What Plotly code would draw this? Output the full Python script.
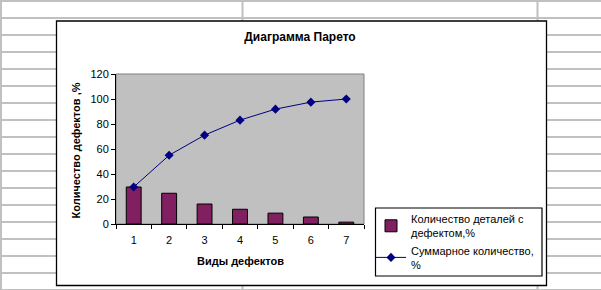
import plotly.graph_objects as go

# ---- data ----
categories = ["1", "2", "3", "4", "5", "6", "7"]
defect_share = [29.6, 24.6, 16.0, 11.8, 8.7, 5.6, 1.5]
cumulative = [29.6, 55.0, 71.1, 83.1, 91.9, 97.5, 100.0]
y_ticks = [0, 20, 40, 60, 80, 100, 120]

title_text = "Диаграмма Парето"
x_title = "Виды дефектов"
y_title = "Количество дефектов ,%"
bar_name = "Количество деталей с<br>дефектом,%"
line_name = "Суммарное количество,<br>%"

# ---- geometry (pixels) ----
W, H = 601, 290
PL, PR, PT, PB = 116, 364, 74, 224  # plot area box


def px(xp):
    return (xp - PL) / (PR - PL)


def py(yp):
    return (PB - yp) / (PB - PT)


FONT = "Liberation Sans, Arial, sans-serif"
GRID = "#C0C0C0"

fig = go.Figure()
fig.add_trace(go.Bar(
    x=categories, y=defect_share, name=bar_name,
    marker=dict(color="#802060", line=dict(color="black", width=1)),
))
fig.add_trace(go.Scatter(
    x=categories, y=cumulative, name=line_name, mode="lines+markers",
    line=dict(color="#000080", width=1),
    marker=dict(symbol="diamond", size=7, color="#000080"),
))

shapes = []
# spreadsheet grid
for k in range(18):
    yy = 1 + 17 * k
    shapes.append(dict(type="line", xref="paper", yref="paper", layer="below",
                       x0=px(0), x1=px(W), y0=py(yy), y1=py(yy),
                       line=dict(color=GRID, width=2)))
for xx in [1, 242.5, 537.5]:
    shapes.append(dict(type="line", xref="paper", yref="paper", layer="below",
                       x0=px(xx), x1=px(xx), y0=py(0), y1=py(H),
                       line=dict(color=GRID, width=2)))
# chart frame
shapes.append(dict(type="rect", xref="paper", yref="paper", layer="below",
                   x0=px(56.5), x1=px(546.5), y0=py(285.5), y1=py(21),
                   fillcolor="white", line=dict(color="black", width=1.3)))
# legend box
shapes.append(dict(type="rect", xref="paper", yref="paper", layer="below",
                   x0=px(375.5), x1=px(542), y0=py(276), y1=py(208),
                   fillcolor="white", line=dict(color="black", width=1.2)))
# plot area
shapes.append(dict(type="rect", xref="paper", yref="paper", layer="below",
                   x0=0, x1=1, y0=0, y1=1,
                   fillcolor="#C0C0C0", line=dict(color="#808080", width=1)))

fig.update_layout(
    width=W, height=H, autosize=False,
    margin=dict(l=PL, r=W - PR, t=PT, b=H - PB, pad=0, autoexpand=False),
    paper_bgcolor="white", plot_bgcolor="rgba(0,0,0,0)",
    font=dict(family=FONT, size=11, color="black"),
    title=dict(text="<b>" + title_text + "</b>", xref="container", yref="container",
               x=300 / W, y=1 - 37 / H, xanchor="center", yanchor="middle",
               font=dict(family=FONT, size=12, color="black")),
    bargap=0.58,
    showlegend=True,
    legend=dict(xref="container", yref="container",
                x=371 / W, y=1 - 205 / H, xanchor="left", yanchor="top",
                bgcolor="rgba(0,0,0,0)", borderwidth=0,
                font=dict(family=FONT, size=11, color="black"),
                traceorder="normal"),
    shapes=shapes,
    annotations=[
        dict(text="<b>" + y_title + "</b>", xref="paper", yref="paper",
             x=px(75.5), y=py(151), textangle=-90, showarrow=False,
             xanchor="center", yanchor="middle",
             font=dict(family=FONT, size=11, color="black")),
        dict(text="<b>" + x_title + "</b>", xref="paper", yref="paper",
             x=px(240), y=py(260.5), showarrow=False,
             xanchor="center", yanchor="middle",
             font=dict(family=FONT, size=11, color="black")),
    ],
)
fig.update_xaxes(type="category", showgrid=False, zeroline=False, automargin=False,
                 showline=True, linecolor="black", linewidth=1,
                 ticks="outside", ticklen=4, tickcolor="black",
                 tickson="boundaries", tickfont=dict(size=11),
                 ticklabelstandoff=6)
fig.update_yaxes(range=[0, 120], tickvals=y_ticks, showgrid=False, zeroline=False,
                 automargin=False,
                 showline=True, linecolor="black", linewidth=1,
                 ticks="outside", ticklen=4, tickcolor="black",
                 tickfont=dict(size=11))

fig.write_html("out.html")
